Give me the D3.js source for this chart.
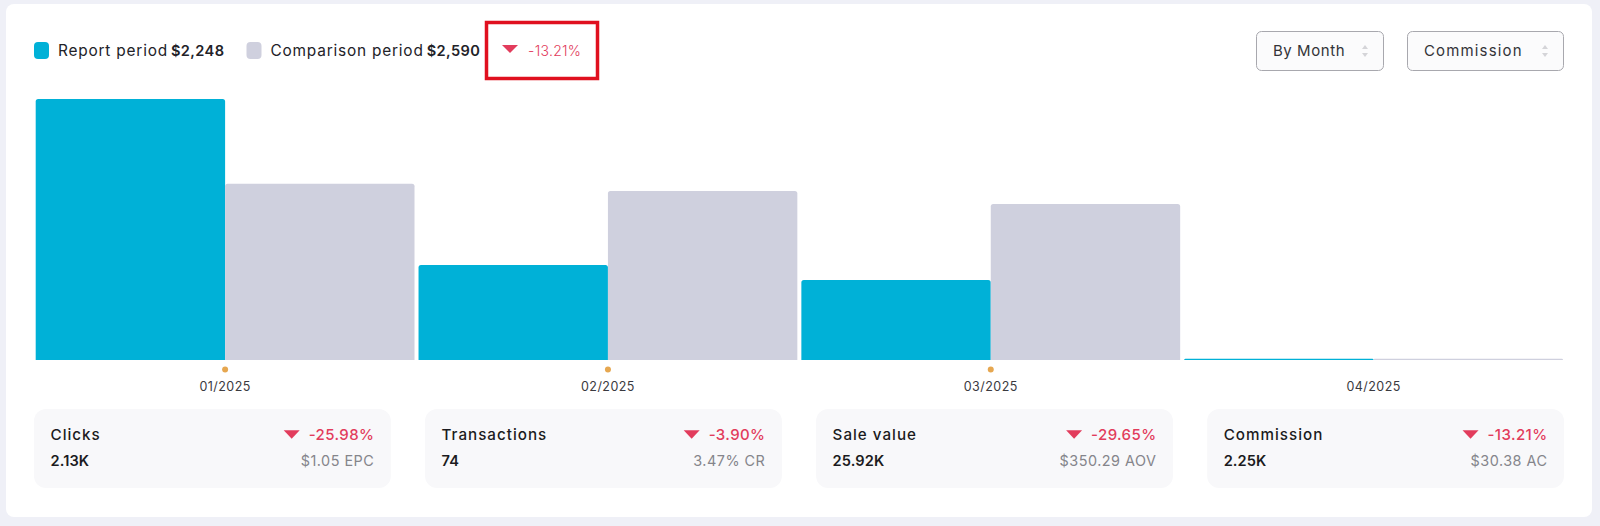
<!DOCTYPE html>
<html><head><meta charset="utf-8">
<script src="https://cdn.jsdelivr.net/npm/d3@7/dist/d3.min.js"></script>
<style>
html,body{margin:0;padding:0;background:#eff0f7;overflow:hidden}
svg{display:block;font-family:Inter,"Open Sans",sans-serif;fill:#222228}
</style></head><body>
<svg id="c" width="1600" height="526"></svg>
<script>
const months = ["01/2025","02/2025","03/2025","04/2025"];
const reportValues = [1340,488,411,7];
const comparisonValues = [905,868,801,6];
const markedMonths = ["01/2025","02/2025","03/2025"];
const seriesNames = ["Report period","Comparison period"];
const seriesTotals = ["$2,248","$2,590"];
const overallChange = "-13.21%";
const selectors = ["By Month","Commission"];
const kpiNames = ["Clicks","Transactions","Sale value","Commission"];
const kpiValues = ["2.13K","74","25.92K","2.25K"];
const kpiChanges = ["-25.98%","-3.90%","-29.65%","-13.21%"];
const kpiNotes = ["$1.05 EPC","3.47% CR","$350.29 AOV","$30.38 AC"];

const TEAL="#00b1d7", GREY="#cfd0de", RED="#e23c5c";
const svg=d3.select("#c");

svg.append("rect").attr("x",6).attr("y",4).attr("width",1586).attr("height",513).attr("rx",8).attr("fill","#fff");

function tri(g,x,cy,w,h){
  g.append("path").attr("d",d3.line()([[x,cy-h/2],[x+w,cy-h/2],[x+w/2,cy+h/2]])+"Z").attr("fill",RED);
}
function roundTop(x,y,w,h,r){
  r=Math.min(r,h);
  return `M${x},${y+h}V${y+r}Q${x},${y} ${x+r},${y}H${x+w-r}Q${x+w},${y} ${x+w},${y+r}V${y+h}Z`;
}

// Legend
const legend=svg.append("g");
let lx=34;
seriesNames.forEach((n,i)=>{
  legend.append("rect").attr("x",lx).attr("y",42).attr("width",15).attr("height",17).attr("rx",4).attr("fill",i?GREY:TEAL);
  const t=legend.append("text").attr("x",lx+24).attr("y",55.5).attr("font-size",15.4).attr("letter-spacing",0.8).text(n);
  const w=t.node().getComputedTextLength();
  const b=legend.append("text").attr("x",lx+24+w+3).attr("y",55.5).attr("font-size",14.6).attr("font-weight",600).attr("letter-spacing",0.4).text(seriesTotals[i]);
  lx+=24+w+3+b.node().getComputedTextLength()+22;
});

// Highlight box
svg.append("rect").attr("x",486.5).attr("y",22.5).attr("width",111).attr("height",56).attr("fill","none").attr("stroke","#e0101f").attr("stroke-width",3.5);
tri(svg,502,49,16,8);
svg.append("text").attr("x",528).attr("y",55.5).attr("font-size",14).attr("fill",RED).attr("font-weight",300).attr("letter-spacing",0.3).text(overallChange);

// Selectors
const boxes=[[1256,128,1273,1365,0.55],[1407,157,1424,1545,1.15]];
selectors.forEach((s,i)=>{
  const [x,w,tx,ax,ls]=boxes[i];
  svg.append("rect").attr("x",x+.5).attr("y",31.5).attr("width",w-1).attr("height",39).attr("rx",5).attr("fill","#fbfbfc").attr("stroke","#a8a8ae");
  svg.append("text").attr("x",tx).attr("y",56).attr("font-size",15).attr("letter-spacing",ls).attr("fill","#333338").text(s);
  svg.append("path").attr("d",`M${ax-3},49l3,-4l3,4ZM${ax-3},53l3,4l3,-4Z`).attr("fill","#d4d4d8");
});

// Chart
const x0=d3.scaleBand().domain(months).range([35.7,1563]).paddingInner(0.0105).paddingOuter(0);
const x1=d3.scaleBand().domain([0,1]).range([0,x0.bandwidth()]);
const y=d3.scaleLinear().domain([0,1340]).range([360,99]);
const plot=svg.append("g");
[reportValues,comparisonValues].forEach((vals,s)=>{
  plot.selectAll(null).data(vals).join("path")
    .attr("d",(v,i)=>roundTop(x0(months[i])+x1(s),y(v),x1.bandwidth(),y(0)-y(v),2.5))
    .attr("fill",s?GREY:TEAL);
});
plot.selectAll(null).data(markedMonths).join("circle")
  .attr("cx",m=>x0(m)+x0.bandwidth()/2).attr("cy",369.5).attr("r",3).attr("fill","#e6a750");

const axis=svg.append("g").attr("transform","translate(0,360)")
  .call(d3.axisBottom(x0).tickSize(0).tickPadding(22));
axis.select(".domain").remove();
axis.selectAll("text").attr("font-family","Inter").attr("font-size",12.5).attr("letter-spacing",0.45).attr("fill","#3a3a40");

// KPI cards
const cardX=d3.scaleBand().domain(kpiNames).range([34,1564]).paddingInner(0.0875).paddingOuter(0);
kpiNames.forEach((n,i)=>{
  const g=svg.append("g").attr("transform",`translate(${cardX(n)},409)`);
  const w=cardX.bandwidth();
  g.append("rect").attr("width",w).attr("height",79).attr("rx",12).attr("fill","#f8f8fa");
  g.append("text").attr("x",16.5).attr("y",30.5).attr("font-size",15.2).attr("font-weight",500).attr("letter-spacing",1).attr("fill","#1b1b20").text(n);
  g.append("text").attr("x",16.5).attr("y",57).attr("font-size",14.6).attr("font-weight",600).attr("letter-spacing",0.1).attr("fill","#1b1b20").text(kpiValues[i]);
  const c=g.append("text").attr("x",w-16.5).attr("y",30.5).attr("text-anchor","end").attr("font-size",15).attr("font-weight",500).attr("letter-spacing",0.4).attr("fill",RED).text(kpiChanges[i]);
  tri(g,w-16.5-c.node().getComputedTextLength()-25,25.5,16,8.5);
  g.append("text").attr("x",w-16.5).attr("y",57).attr("text-anchor","end").attr("font-size",14.4).attr("letter-spacing",0.5).attr("fill","#85858b").text(kpiNotes[i]);
});
</script></body></html>
